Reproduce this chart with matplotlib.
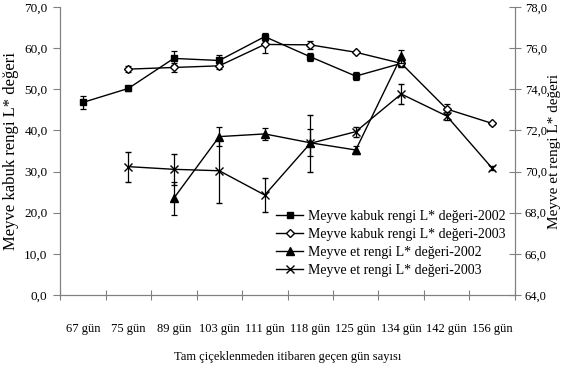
import numpy as np
import matplotlib
matplotlib.use("Agg")
import matplotlib.pyplot as plt
from matplotlib.lines import Line2D
from matplotlib.ticker import FixedLocator, FuncFormatter

plt.rcParams['font.family'] = ['Liberation Serif', 'DejaVu Serif']

nan = np.nan

# --- Veri ---
gunler = ["67 gün", "75 gün", "89 gün", "103 gün", "111 gün",
          "118 gün", "125 gün", "134 gün", "142 gün", "156 gün"]

kabuk_2002 = [46.8, 50.2, 57.5, 57.0, 62.8, 57.9, 53.2, 56.3, nan, nan]
kabuk_2002_hata = [1.5, 0.5, 1.7, 1.4, 1.0, 1.0, 1.0, 0.8, nan, nan]

kabuk_2003 = [nan, 54.9, 55.3, 55.7, 60.9, 60.8, 59.0, 56.3, 45.2, 41.7]
kabuk_2003_hata = [nan, 0.8, 1.0, 0.8, 2.0, 1.0, 0.3, 1.0, 1.2, 0.3]

et_2002 = [nan, nan, 68.7, 71.7, 71.83, 71.4, 71.05, 75.6, nan, nan]
et_2002_hata = [nan, nan, 0.8, 0.46, 0.3, 0.65, 0.2, 0.3, nan, nan]

et_2003 = [nan, 70.24, 70.11, 70.04, 68.86, 71.37, 71.94, 73.77, 72.70, 70.16]
et_2003_hata = [nan, 0.73, 0.74, 1.55, 0.84, 1.37, 0.25, 0.5, 0.2, 0.1]

seri_adlari = ["Meyve kabuk rengi L* değeri-2002",
               "Meyve kabuk rengi L* değeri-2003",
               "Meyve et rengi L* değeri-2002",
               "Meyve et rengi L* değeri-2003"]

x = np.arange(len(gunler))
virgul = FuncFormatter(lambda v, _: f"{v:.1f}".replace(".", ","))
eksen_rengi = "#808080"

fig = plt.figure(figsize=(5.65, 3.76), dpi=100)
ax = fig.add_axes([0.1062, 0.2154, 0.8053, 0.766])
ax2 = ax.twinx()

stil = dict(color="black", linewidth=1.0, elinewidth=0.9, capsize=2.5,
            capthick=0.9)
isaretler = [
    dict(marker="s", markersize=5, mfc="black", mec="black"),
    dict(marker="D", markersize=4.5, mfc="white", mec="black"),
    dict(marker="^", markersize=6, mfc="black", mec="black"),
    dict(marker="x", markersize=6, mew=1.0, mec="black"),
]

ax.errorbar(x, kabuk_2002, yerr=kabuk_2002_hata, **isaretler[0], **stil)
ax.errorbar(x, kabuk_2003, yerr=kabuk_2003_hata, **isaretler[1], **stil)
ax2.errorbar(x, et_2002, yerr=et_2002_hata, **isaretler[2], **stil)
ax2.errorbar(x, et_2003, yerr=et_2003_hata, **isaretler[3], **stil)

ax.set_xlim(-0.5, len(gunler) - 0.5)
ax.set_ylim(0, 70)
ax2.set_ylim(64, 78)
ax.set_yticks(np.arange(0, 71, 10))
ax2.set_yticks(np.arange(64, 79, 2))
ax.yaxis.set_major_formatter(virgul)
ax2.yaxis.set_major_formatter(virgul)

# kategori sınırlarında çentik, etiketler ortada
ax.xaxis.set_major_locator(FixedLocator(np.arange(-0.5, len(gunler), 1.0)))
ax.xaxis.set_major_formatter(FuncFormatter(lambda v, _: ""))
ax.xaxis.set_minor_locator(FixedLocator(x))
ax.set_xticklabels(gunler, minor=True)
ax.tick_params(axis="x", which="major", direction="inout", length=7,
               color=eksen_rengi)
ax.tick_params(axis="x", which="minor", length=0, pad=20, labelsize=9)
ax.tick_params(axis="y", direction="out", length=5, color=eksen_rengi,
               labelsize=9.5, pad=4)
ax2.tick_params(axis="y", direction="inout", length=8, color=eksen_rengi,
                labelsize=9, pad=3)

for a in (ax, ax2):
    a.spines["top"].set_visible(False)
    for s in ("left", "right", "bottom"):
        a.spines[s].set_color(eksen_rengi)

ax.set_ylabel("Meyve kabuk rengi L* değeri", fontsize=12, labelpad=4)
ax2.set_ylabel("Meyve et rengi L* değeri", fontsize=11, labelpad=1)
ax.set_xlabel("Tam çiçeklenmeden itibaren geçen gün sayısı", fontsize=9,
              labelpad=12)

tutamaklar = [Line2D([], [], color="black", linewidth=1.0, **m)
              for m in isaretler]
ax2.legend(tutamaklar, seri_adlari,
           loc="lower right", bbox_to_anchor=(1.0, 0.03), frameon=False,
           fontsize=10, handlelength=2.0, handletextpad=0.3,
           labelspacing=0.35, borderaxespad=0.3)

fig.savefig("out.png", dpi=100)
